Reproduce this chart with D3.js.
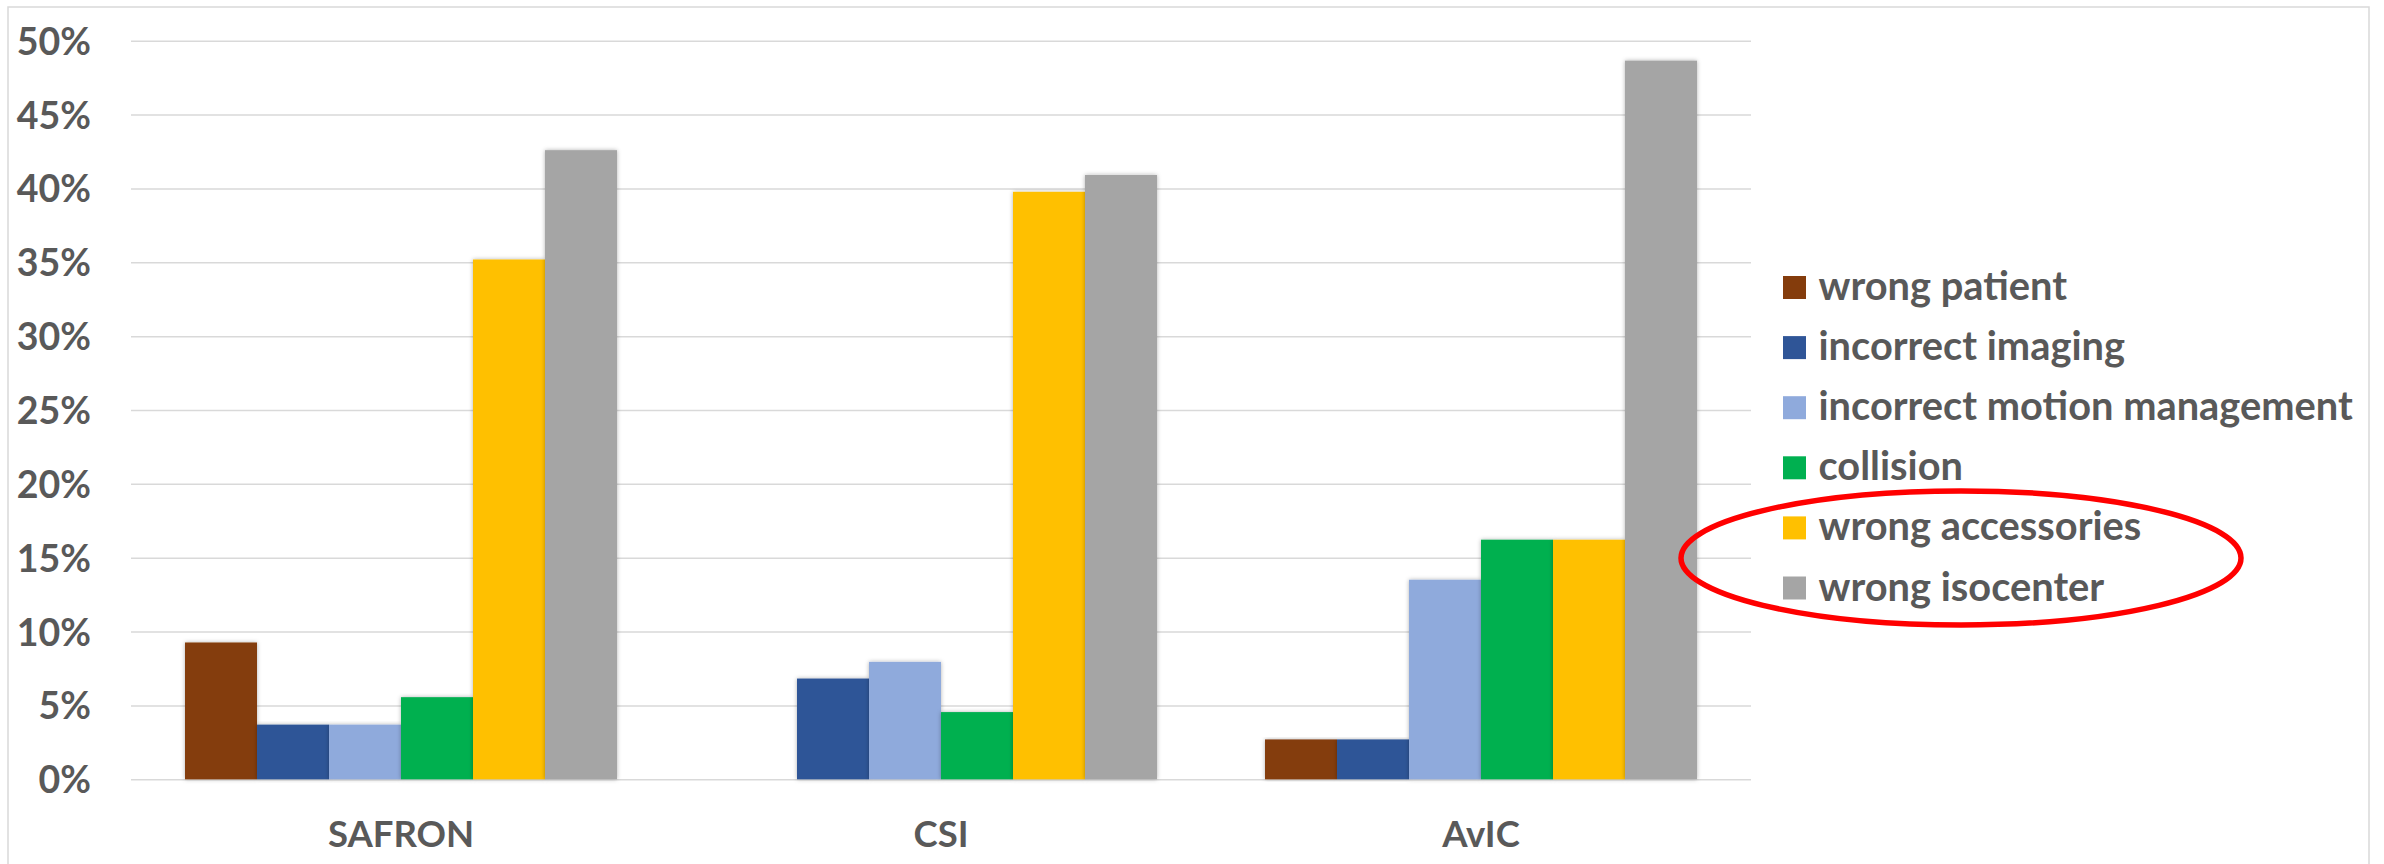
<!DOCTYPE html>
<html>
<head>
<meta charset="utf-8">
<script src="https://cdn.jsdelivr.net/npm/d3@7/dist/d3.min.js"></script>
<style>
  html, body { margin: 0; padding: 0; background: #fff; }
  svg { display: block; }
  text { font-family: Lato, "Open Sans", sans-serif; font-weight: 700; fill: #595959; }
</style>
</head>
<body>
<svg id="chart" width="2384" height="864"></svg>
<script>
// Incident categories per system (share of reported events)
const categories = ["SAFRON", "CSI", "AvIC"];
const seriesNames = [
  "wrong patient",
  "incorrect imaging",
  "incorrect motion management",
  "collision",
  "wrong accessories",
  "wrong isocenter"
];
const wrongPatient      = [0.0926, 0.0000, 0.0270];
const incorrectImaging  = [0.0370, 0.0682, 0.0270];
const incorrectMotion   = [0.0370, 0.0795, 0.1351];
const collision         = [0.0556, 0.0455, 0.1622];
const wrongAccessories  = [0.3519, 0.3977, 0.1622];
const wrongIsocenter    = [0.4259, 0.4091, 0.4865];
const yTicks = [0, 0.05, 0.10, 0.15, 0.20, 0.25, 0.30, 0.35, 0.40, 0.45, 0.50];
const highlighted = ["wrong accessories", "wrong isocenter"];

const seriesValues = [wrongPatient, incorrectImaging, incorrectMotion, collision, wrongAccessories, wrongIsocenter];
const seriesColors = ["#843C0C", "#2F5597", "#8FAADC", "#00B050", "#FFC000", "#A5A5A5"];

const svg = d3.select("#chart");
const W = 2384, H = 864;
const plot = { left: 131, right: 1751, top: 40.7, bottom: 779.3 };

svg.append("rect").attr("width", W).attr("height", H).attr("fill", "#fff");

// soft outer shadow used on the bars
const defs = svg.append("defs");
const shadow = defs.append("filter").attr("id", "barShadow")
  .attr("x", "-20%").attr("y", "-5%").attr("width", "140%").attr("height", "110%");
shadow.append("feDropShadow")
  .attr("dx", 0).attr("dy", 0).attr("stdDeviation", 2)
  .attr("flood-color", "#000").attr("flood-opacity", 0.3);

// chart area frame
svg.append("rect")
  .attr("x", 8).attr("y", 7)
  .attr("width", 2361).attr("height", 900)
  .attr("fill", "none").attr("stroke", "#d9d9d9").attr("stroke-width", 1.5);

// one band per system; inside it six bars with a 150% gap split on both sides
const x0 = d3.scaleBand().domain(categories)
  .range([plot.left, plot.right]).paddingInner(0).paddingOuter(0);
const x1 = d3.scaleBand().domain(seriesNames)
  .range([0, x0.bandwidth()]).paddingInner(0).paddingOuter(0.75);

const y = d3.scaleLinear().domain([0, 0.5]).range([plot.bottom, plot.top]);

// gridlines + y labels
const yAxis = d3.axisLeft(y)
  .tickValues(yTicks)
  .tickFormat(d3.format(".0%"))
  .tickSize(-(plot.right - plot.left))
  .tickPadding(40);
const gy = svg.append("g")
  .attr("transform", `translate(${plot.left},0)`)
  .call(yAxis);
gy.select(".domain").remove();
gy.selectAll(".tick line").attr("stroke", "#d9d9d9").attr("stroke-width", 1.5);
gy.selectAll(".tick text")
  .attr("font-size", 37.5)
  .attr("dy", "0.36em")
  .style("font-family", "Lato, sans-serif")
  .style("font-weight", 700)
  .attr("fill", "#595959");

// bars
const groups = svg.append("g").selectAll("g")
  .data(categories)
  .join("g")
  .attr("transform", d => `translate(${x0(d)},0)`);

groups.selectAll("rect")
  .data((cat, ci) => seriesNames.map((s, si) => ({ s, si, v: seriesValues[si][ci] })))
  .join("rect")
  .filter(d => d.v > 0)
  .attr("x", d => x1(d.s))
  .attr("y", d => y(d.v))
  .attr("width", x1.bandwidth())
  .attr("height", d => y(0) - y(d.v))
  .attr("fill", d => seriesColors[d.si])
  .attr("filter", "url(#barShadow)");

// category labels
const xAxis = d3.axisBottom(x0).tickSize(0).tickPadding(0);
const gx = svg.append("g")
  .attr("transform", `translate(0,${plot.bottom})`)
  .call(xAxis);
gx.select(".domain").remove();
gx.selectAll(".tick text")
  .attr("y", 67.4).attr("dy", 0)
  .attr("font-size", 36.5)
  .style("font-family", "Lato, sans-serif")
  .style("font-weight", 700)
  .attr("fill", "#595959");

// legend
const legend = svg.append("g").attr("transform", "translate(1783,276)");
const rows = legend.selectAll("g")
  .data(seriesNames)
  .join("g")
  .attr("transform", (d, i) => `translate(0,${i * 60.1})`);
rows.append("rect")
  .attr("width", 23).attr("height", 23)
  .attr("fill", (d, i) => seriesColors[i]);
rows.append("text")
  .attr("x", 35.5).attr("y", 24)
  .attr("font-size", 39.8)
  .text(d => d);

// highlight ring around the two emphasised legend entries
const hiIdx = highlighted.map(h => seriesNames.indexOf(h));
const ringCy = 276 + 11.5 + 60.1 * (hiIdx[0] + hiIdx[1]) / 2;
svg.append("ellipse")
  .attr("cx", 1961).attr("cy", ringCy)
  .attr("rx", 280).attr("ry", 67)
  .attr("fill", "none")
  .attr("stroke", "#FF0000")
  .attr("stroke-width", 5.5);
</script>
</body>
</html>
